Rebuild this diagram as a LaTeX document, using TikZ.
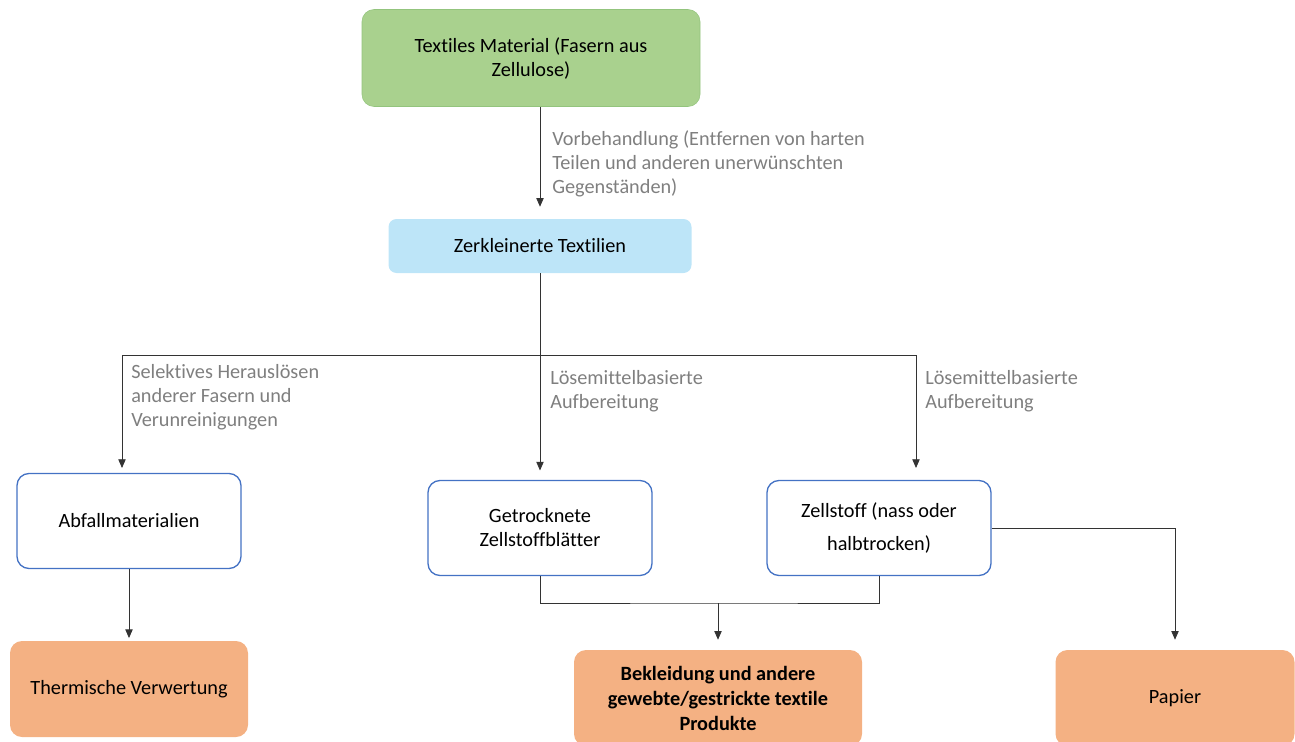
\documentclass[tikz,border=0pt]{standalone}
\usepackage{fontspec}
\setmainfont{Carlito}[Ligatures=NoCommon]
\usetikzlibrary{arrows.meta}

\definecolor{matgreen}{HTML}{A9D18E}
\definecolor{matgreenline}{HTML}{93C47D}
\definecolor{zerkblue}{HTML}{BDE5F8}
\definecolor{boxblue}{HTML}{4472C4}
\definecolor{prodorange}{HTML}{F4B183}
\definecolor{labelgray}{HTML}{7F7F7F}

\tikzset{
	box/.style={rounded corners=9pt, align=center, inner sep=0pt, font=\fontsize{15.2}{18}\selectfont},
	stepbox/.style={box, draw=boxblue, line width=1pt, fill=white, minimum width=168pt, minimum height=71.25pt},
	prodbox/.style={box, fill=prodorange, minimum height=72pt},
	lbl/.style={anchor=west, align=left, inner sep=0pt, text=labelgray, font=\fontsize{15.2}{18}\selectfont},
	conn/.style={draw=black!80, line width=0.6pt},
	arr/.style={conn, -{Triangle[length=6.5pt, width=5.5pt]}},
}

\begin{document}
\begin{tikzpicture}[x=0.75pt, y=-0.75pt]

		\useasboundingbox (0,0) rectangle (1295,742);

		% Ausgangsmaterial
		\node[box, fill=matgreen, draw=matgreenline, minimum width=253.5pt, minimum height=72.75pt] (mat) at (531,58) {Textiles Material (Fasern aus\\ Zellulose)};
		\node[box, rounded corners=6pt, fill=zerkblue, minimum width=227.25pt, minimum height=40.5pt] (zerk) at (540,246) {Zerkleinerte Textilien};

		% Zwischenprodukte
		\node[stepbox] (abf) at (129,521) {Abfallmaterialien};
		\node[stepbox] (getr) at (540,528) {Getrocknete\\ Zellstoffblätter};
		\node[stepbox, font=\fontsize{15.2}{24.75}\selectfont] (zell) at (879,528) {Zellstoff (nass oder\\ halbtrocken)};

		% Endprodukte
		\node[prodbox, minimum width=178.5pt] (therm) at (129,689) {Thermische Verwertung};
		\node[prodbox, minimum width=216pt, font=\bfseries\fontsize{15.2}{18.75}\selectfont] (bekl) at (718,698) {Bekleidung und andere\\ gewebte/gestrickte textile\\ Produkte};
		\node[prodbox, minimum width=179.25pt] (pap) at (1175,698) {Papier};

		% Beschriftungen
		\node[lbl] (vorlbl) at (552,164) {Vorbehandlung (Entfernen von harten\\ Teilen und anderen unerwünschten\\ Gegenständen)};
		\node[lbl] (sellbl) at (131,397) {Selektives Herauslösen\\ anderer Fasern und\\ Verunreinigungen};
		\node[lbl] (loelbl) at (550,391) {Lösemittelbasierte\\ Aufbereitung};
		\node[lbl] (loelblb) at (925,391) {Lösemittelbasierte\\ Aufbereitung};

		% Verbindungen
		\coordinate (split) at (540,355);
		\coordinate (abfin) at (122,468);
		\coordinate (zellin) at (916,468);
		\coordinate (join) at (718,603);

		\draw[arr, shorten >=9pt] (mat.south -| zerk.north) -- (zerk.north);
		\draw[conn] (zerk.south) -- (split);
		\draw[arr] (split) -| (abfin);
		\draw[arr] (split) -| (zellin);
		\draw[arr, shorten >=7pt] (split) -- (getr.north);
		\draw[arr, shorten >=2pt] (abf.south -| therm.north) -- (therm.north);
		\draw[conn] (getr.south) |- (join) -| (zell.south);
		\draw[arr, shorten >=7.5pt] (join) -- (bekl.north);
		\draw[arr, shorten >=7.5pt] (zell.east) -| (pap.north);

\end{tikzpicture}
\end{document}
